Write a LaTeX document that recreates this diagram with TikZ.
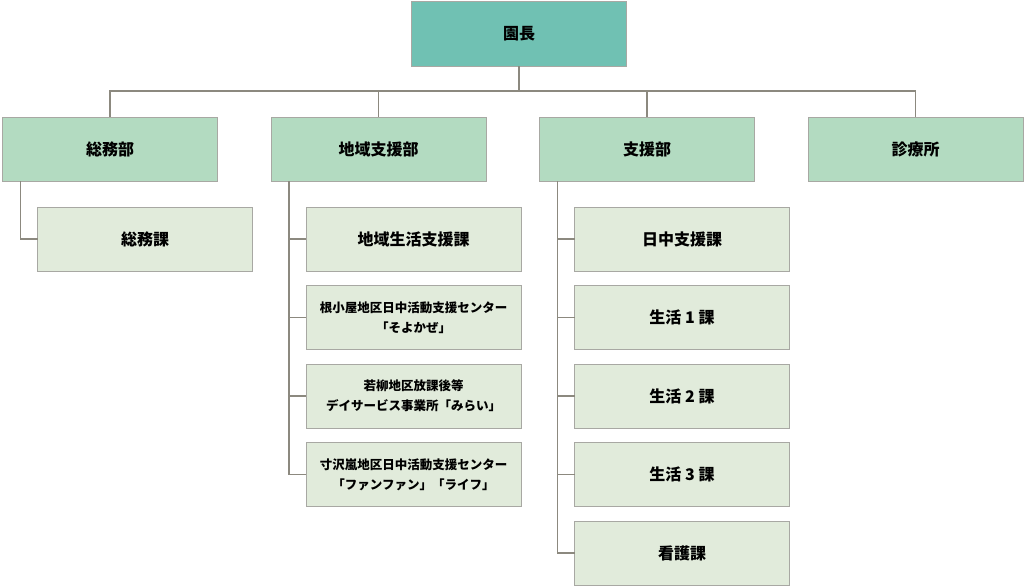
\documentclass[tikz,border=0pt]{standalone}
\usepackage{fontspec}
\setmainfont{Noto Sans CJK JP}
\usetikzlibrary{positioning}
\definecolor{headfill}{HTML}{70C1B3}
\definecolor{deptfill}{HTML}{B3DBC1}
\definecolor{secfill}{HTML}{E1EBDB}
\definecolor{boxline}{HTML}{A8A8A3}
\definecolor{linkline}{HTML}{8C897F}
\tikzset{
  orgbox/.style={draw=boxline, line width=1pt, inner sep=0pt, outer sep=0pt,
    minimum width=215pt, minimum height=64pt, align=center,
    font=\bfseries\fontsize{16}{20}\selectfont},
  headbox/.style={orgbox, fill=headfill},
  deptbox/.style={orgbox, fill=deptfill},
  secbox/.style={orgbox, fill=secfill},
  smalltext/.style={font=\bfseries\fontsize{12.5}{20}\selectfont},
  link/.style={draw=linkline, line width=1.3pt}
}
\begin{document}
\begin{tikzpicture}[x=1pt,y=1pt]
  \useasboundingbox (0,0) rectangle (1024,-586);
  \node[headbox] (encho) at (519,-34) {園長};
  % departments
  \node[deptbox] (somubu) at (110,-149) {総務部};
  \node[deptbox] (chiikibu) at (378.5,-149) {地域支援部};
  \node[deptbox] (shienbu) at (647,-149) {支援部};
  \node[deptbox] (shinryo) at (915.5,-149) {診療所};
  % sections
  \node[secbox, below=26pt of somubu, xshift=35pt] (somuka) {総務課};
  \node[secbox, below=26pt of chiikibu, xshift=35pt] (chiiki1) {地域生活支援課};
  \node[secbox, smalltext, below=14.5pt of chiiki1] (chiiki2) {根小屋地区日中活動支援センター\\「そよかぜ」};
  \node[secbox, smalltext, below=14.5pt of chiiki2] (chiiki3) {若柳地区放課後等\\デイサービス事業所「みらい」};
  \node[secbox, smalltext, below=14.5pt of chiiki3] (chiiki4) {寸沢嵐地区日中活動支援センター\\「ファンファン」「ライフ」};
  \node[secbox, below=26pt of shienbu, xshift=35pt] (shien1) {日中支援課};
  \node[secbox, below=14.5pt of shien1] (shien2) {生活 1 課};
  \node[secbox, below=14.5pt of shien2] (shien3) {生活 2 課};
  \node[secbox, below=14.5pt of shien3] (shien4) {生活 3 課};
  \node[secbox, below=14.5pt of shien4] (shien5) {看護課};
  % links
  \foreach \d in {somubu,chiikibu,shienbu,shinryo}
    \draw[link] (encho.south) -- ++(0,-25) -| (\d.north);
  \draw[link] ([xshift=18pt]somubu.south west) |- (somuka.west);
  \foreach \s in {chiiki1,chiiki2,chiiki3,chiiki4}
    \draw[link] ([xshift=18pt]chiikibu.south west) |- (\s.west);
  \foreach \s in {shien1,shien2,shien3,shien4,shien5}
    \draw[link] ([xshift=18pt]shienbu.south west) |- (\s.west);
\end{tikzpicture}
\end{document}
